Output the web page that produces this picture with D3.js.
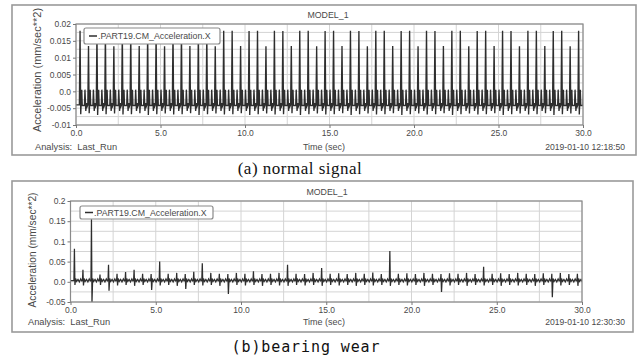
<!DOCTYPE html>
<html>
<head>
<meta charset="utf-8">
<script src="https://cdn.jsdelivr.net/npm/d3@7"></script>
<style>
  html, body { margin: 0; padding: 0; background: #fff; }
  svg { display: block; }
  .lbl { font-family: "Liberation Sans", Arial, sans-serif; fill: #4a4a4a; }
</style>
</head>
<body>
<svg id="chart" width="643" height="360"></svg>
<script>
// ---- data ----------------------------------------------------------------
const timeTicks = [0, 5, 10, 15, 20, 25, 30];
const timeTickLabels = ["0.0", "5.0", "10.0", "15.0", "20.0", "25.0", "30.0"];

const yTicksA = [0.02, 0.015, 0.01, 0.005, 0, -0.005, -0.01];
const yTickLabelsA = ["0.02", "0.015", "0.01", "0.005", "0.0", "-0.005", "-0.01"];
const yTicksB = [0.2, 0.15, 0.1, 0.05, 0, -0.05];
const yTickLabelsB = ["0.2", "0.15", "0.1", "0.05", "0.0", "-0.05"];

// impact every 0.5 s, first one at 0.2 s
const firstImpact = 0.2;
const impactPeriod = 0.5;

// (a) normal signal: peak / trough of each impact
const peaksA = [
  0.0180, 0.0135, 0.0179, 0.0180, 0.0134, 0.0180, 0.0179, 0.0135, 0.0180, 0.0180,
  0.0134, 0.0179, 0.0180, 0.0135, 0.0180, 0.0179, 0.0134, 0.0180, 0.0180, 0.0135,
  0.0179, 0.0180, 0.0134, 0.0180, 0.0179, 0.0135, 0.0180, 0.0180, 0.0134, 0.0179,
  0.0180, 0.0135, 0.0180, 0.0179, 0.0134, 0.0180, 0.0180, 0.0135, 0.0179, 0.0180,
  0.0134, 0.0180, 0.0179, 0.0135, 0.0180, 0.0180, 0.0134, 0.0179, 0.0180, 0.0135,
  0.0180, 0.0179, 0.0134, 0.0180, 0.0180, 0.0135, 0.0179, 0.0180, 0.0134, 0.0180
];
const troughsA = [
  -0.0068, -0.0065, -0.0070, -0.0068, -0.0066, -0.0069, -0.0068, -0.0065, -0.0070, -0.0068,
  -0.0066, -0.0069, -0.0068, -0.0065, -0.0070, -0.0068, -0.0066, -0.0069, -0.0068, -0.0065,
  -0.0070, -0.0068, -0.0066, -0.0069, -0.0068, -0.0065, -0.0070, -0.0068, -0.0066, -0.0069,
  -0.0068, -0.0065, -0.0070, -0.0068, -0.0066, -0.0069, -0.0068, -0.0065, -0.0070, -0.0068,
  -0.0066, -0.0069, -0.0068, -0.0065, -0.0070, -0.0068, -0.0066, -0.0069, -0.0068, -0.0065,
  -0.0070, -0.0068, -0.0066, -0.0069, -0.0068, -0.0065, -0.0070, -0.0068, -0.0066, -0.0069
];
// ringing between impacts (time after impact, value); null = peak / trough slot
const cycleOffsetsA = [0, 0.04, 0.08, 0.11, 0.14, 0.17, 0.30, 0.33, 0.38, 0.42, 0.46];
const cycleValuesA  = [-0.0040, null, null, -0.0030, 0.0005, -0.0042, -0.0042, 0.0005, -0.0058, -0.0035, -0.0045];

// (b) bearing wear
const peaksB = [
  0.082, 0.030, 0.155, 0.018, 0.042, 0.020, 0.024, 0.030, 0.020, 0.019,
  0.050, 0.020, 0.022, 0.019, 0.025, 0.046, 0.022, 0.020, 0.019, 0.022,
  0.020, 0.026, 0.019, 0.020, 0.022, 0.042, 0.020, 0.019, 0.022, 0.034,
  0.020, 0.021, 0.019, 0.022, 0.020, 0.023, 0.019, 0.076, 0.020, 0.021,
  0.019, 0.022, 0.020, 0.019, 0.021, 0.020, 0.022, 0.019, 0.037, 0.020,
  0.021, 0.019, 0.022, 0.020, 0.019, 0.021, 0.020, 0.022, 0.019, 0.020
];
const troughsB = [
  -0.008, -0.009, -0.052, -0.008, -0.022, -0.009, -0.008, -0.010, -0.008, -0.020,
  -0.009, -0.008, -0.010, -0.018, -0.008, -0.009, -0.008, -0.010, -0.030, -0.008,
  -0.009, -0.008, -0.010, -0.008, -0.009, -0.010, -0.008, -0.009, -0.008, -0.010,
  -0.008, -0.009, -0.008, -0.010, -0.008, -0.009, -0.008, -0.010, -0.008, -0.009,
  -0.008, -0.010, -0.008, -0.025, -0.009, -0.008, -0.010, -0.008, -0.009, -0.008,
  -0.010, -0.008, -0.009, -0.008, -0.010, -0.008, -0.038, -0.009, -0.008, -0.010
];
const cycleOffsetsB = [0, 0.03, 0.06, 0.10, 0.16, 0.24, 0.32, 0.40, 0.46];
const cycleValuesB  = [0.003, null, null, 0.008, 0.001, 0.006, 0.000, 0.007, 0.002];

// ---- build sample series from the impact tables ---------------------------
function buildSeries(start, peaks, troughs, offsets, values) {
  const pts = [start];
  peaks.forEach((p, k) => {
    const t0 = firstImpact + k * impactPeriod;
    offsets.forEach((dt, i) => {
      let v = values[i];
      if (i === 1) v = p;
      if (i === 2) v = troughs[k];
      pts.push([t0 + dt, v]);
    });
  });
  return pts;
}
const seriesA = buildSeries([0, -0.004], peaksA, troughsA, cycleOffsetsA, cycleValuesA);
const seriesB = buildSeries([0, 0.003], peaksB, troughsB, cycleOffsetsB, cycleValuesB);

// ---- drawing ----------------------------------------------------------------
const svg = d3.select("#chart");
svg.append("rect").attr("width", 643).attr("height", 360).attr("fill", "#fff");

function drawPanel(o) {
  const g = svg.append("g");
  // outer frame
  g.append("rect").attr("x", o.frame[0]).attr("y", o.frame[1])
    .attr("width", o.frame[2]).attr("height", o.frame[3])
    .attr("fill", "#fff").attr("stroke", "#9a9a9a").attr("stroke-width", 1.6);

  const x = d3.scaleLinear().domain([0, 30]).range([o.left, o.right]);
  const y = d3.scaleLinear().domain(o.yDomain).range([o.bottom, o.top]);

  // grid: vertical every 2.5 s, horizontal every half label step
  const gx = d3.range(0, 30.0001, 2.5);
  g.selectAll(null).data(gx).enter().append("line")
    .attr("x1", d => x(d)).attr("x2", d => x(d))
    .attr("y1", o.top).attr("y2", o.bottom)
    .attr("stroke", "#d4d4d4").attr("stroke-width", 1);
  const gy = d3.range(o.yDomain[0], o.yDomain[1] + o.gridStep / 2, o.gridStep);
  g.selectAll(null).data(gy).enter().append("line")
    .attr("x1", o.left).attr("x2", o.right)
    .attr("y1", d => y(d)).attr("y2", d => y(d))
    .attr("stroke", "#d4d4d4").attr("stroke-width", 1);

  // signal
  const clipId = "clip" + o.id;
  svg.append("clipPath").attr("id", clipId).append("rect")
    .attr("x", o.left).attr("y", o.top).attr("width", o.right - o.left).attr("height", o.bottom - o.top);
  g.append("path").datum(o.series)
    .attr("clip-path", `url(#${clipId})`)
    .attr("fill", "none").attr("stroke", "#2e2e2e").attr("stroke-width", o.lineWidth)
    .attr("stroke-linejoin", "miter")
    .attr("d", d3.line().x(d => x(d[0])).y(d => y(d[1])));

  // plot border
  g.append("rect").attr("x", o.left).attr("y", o.top)
    .attr("width", o.right - o.left).attr("height", o.bottom - o.top)
    .attr("fill", "none").attr("stroke", "#8a8a8a").attr("stroke-width", 1.2);

  // axes
  const ax = g.append("g").attr("transform", `translate(0,${o.bottom})`)
    .call(d3.axisBottom(x).tickValues(timeTicks).tickFormat((d, i) => timeTickLabels[i])
      .tickSize(3).tickSizeOuter(0).tickPadding(2));
  const ay = g.append("g").attr("transform", `translate(${o.left},0)`)
    .call(d3.axisLeft(y).tickValues(o.yTicks).tickFormat((d, i) => o.yTickLabels[i])
      .tickSize(3).tickSizeOuter(0).tickPadding(2));
  [ax, ay].forEach(a => {
    a.select(".domain").remove();
    a.selectAll("line").attr("stroke", "#777");
    a.selectAll("text").attr("class", "lbl").style("font-size", "8.5px")
      .attr("fill", "#4a4a4a").style("font-family", "'Liberation Sans', Arial, sans-serif");
  });

  // title
  g.append("text").attr("class", "lbl").attr("x", o.titleX).attr("y", o.titleY)
    .attr("text-anchor", "middle").style("font-size", "8.8px").text("MODEL_1");

  // y axis title
  g.append("text").attr("class", "lbl")
    .attr("transform", `translate(${o.yTitleX},${o.yTitleY}) rotate(-90)`)
    .attr("text-anchor", "middle").style("font-size", o.yTitleSize)
    .text("Acceleration (mm/sec**2)");

  // x axis title and footer
  g.append("text").attr("class", "lbl").attr("x", o.xTitleX).attr("y", o.footY)
    .attr("text-anchor", "middle").style("font-size", "9px").text("Time (sec)");
  g.append("text").attr("class", "lbl").attr("x", o.footLeft).attr("y", o.footY)
    .style("font-size", "9.3px").style("white-space", "pre").text("Analysis:  Last_Run");
  g.append("text").attr("class", "lbl").attr("x", 625).attr("y", o.footY)
    .attr("text-anchor", "end").style("font-size", "8.6px").text(o.stamp);

  // legend
  const L = o.legend;
  g.append("rect").attr("x", L[0]).attr("y", L[1]).attr("width", L[2]).attr("height", L[3])
    .attr("rx", 2).attr("fill", "#fff").attr("stroke", "#8a8a8a").attr("stroke-width", 1.2);
  g.append("line").attr("x1", L[0] + 5).attr("x2", L[0] + 13)
    .attr("y1", L[1] + L[3] / 2).attr("y2", L[1] + L[3] / 2)
    .attr("stroke", "#2e2e2e").attr("stroke-width", 1.5);
  g.append("text").attr("class", "lbl").attr("x", L[0] + 14).attr("y", L[1] + L[3] / 2 + 3)
    .style("font-size", "8.8px").text(".PART19.CM_Acceleration.X");

  // caption
  svg.append("text").attr("x", o.capX).attr("y", o.capY).attr("text-anchor", "middle")
    .style("font-family", o.capFont).style("font-size", o.capSize)
    .style("letter-spacing", o.capSpacing).attr("fill", "#111")
    .text(o.caption);
}

drawPanel({
  id: "a", frame: [12, 5, 624, 150],
  left: 76, right: 583, top: 24, bottom: 125,
  yDomain: [-0.01, 0.02], gridStep: 0.0025,
  yTicks: yTicksA, yTickLabels: yTickLabelsA, series: seriesA, lineWidth: 1.35,
  titleX: 328, titleY: 18, yTitleX: 41, yTitleY: 70, yTitleSize: "11px",
  xTitleX: 324, footY: 150, footLeft: 35, stamp: "2019-01-10 12:18:50",
  legend: [84, 28, 136, 16],
  caption: "(a) normal signal", capX: 300, capY: 174,
  capFont: "'Liberation Serif', 'Times New Roman', serif", capSize: "17px", capSpacing: "0.5px"
});

drawPanel({
  id: "b", frame: [12, 181, 621, 151],
  left: 70.5, right: 582, top: 201, bottom: 302,
  yDomain: [-0.05, 0.2], gridStep: 0.025,
  yTicks: yTicksB, yTickLabels: yTickLabelsB, series: seriesB, lineWidth: 1.25,
  titleX: 327, titleY: 195, yTitleX: 36, yTitleY: 250, yTitleSize: "10.2px",
  xTitleX: 324, footY: 325, footLeft: 28, stamp: "2019-01-10 12:30:30",
  legend: [80, 206, 133, 13],
  caption: "(b)bearing wear", capX: 306, capY: 352,
  capFont: "'DejaVu Sans Mono', monospace", capSize: "15px", capSpacing: "0.9px"
});
</script>
</body>
</html>
